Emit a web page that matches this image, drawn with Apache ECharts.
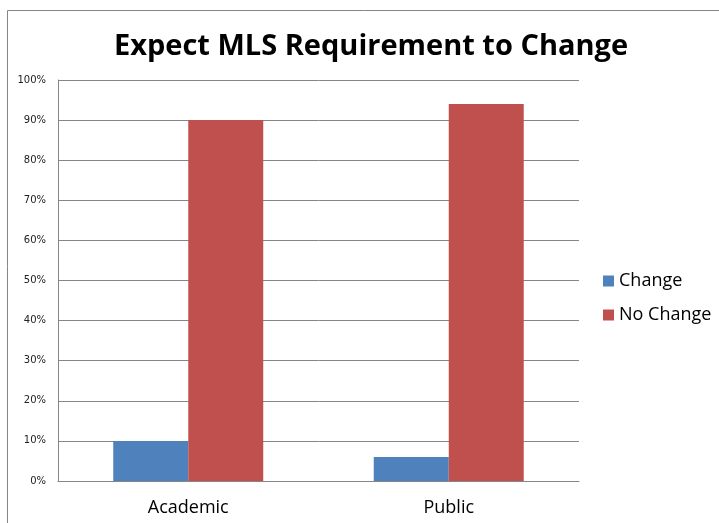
<!DOCTYPE html>
<html>
<head>
<meta charset="utf-8">
<script src="https://cdn.jsdelivr.net/npm/echarts@6/dist/echarts.min.js"></script>
<style>
  html, body { margin: 0; padding: 0; background: #fff; }
  #chart { width: 719px; height: 523px; }
</style>
</head>
<body>
<div id="chart"></div>
<script>
const categories = ["Academic", "Public"];
const changeValues = [10, 6];
const noChangeValues = [90, 94];

const chart = echarts.init(document.getElementById("chart"));

const option = {
  animation: false,
  backgroundColor: "#fff",
  title: {
    text: "Expect MLS Requirement to Change",
    left: 366,
    textAlign: "center",
    top: 27,
    textStyle: {
      fontFamily: "Open Sans",
      fontWeight: "bold",
      fontSize: 29,
      color: "#000"
    }
  },
  // partial outer frame like the original chart box
  graphic: [
    { type: "line", shape: { x1: 7.5, y1: 10.5, x2: 719, y2: 10.5 }, style: { stroke: "#868686", lineWidth: 1 } },
    { type: "line", shape: { x1: 7.5, y1: 10.5, x2: 7.5, y2: 523 }, style: { stroke: "#868686", lineWidth: 1 } }
  ],
  legend: {
    orient: "vertical",
    left: 603,
    top: 272,
    padding: 0,
    itemWidth: 11,
    itemHeight: 11,
    itemGap: 16,
    icon: "rect",
    textStyle: { fontFamily: "Open Sans", fontSize: 18, color: "#000" },
    data: ["Change", "No Change"]
  },
  grid: { left: 58, right: 140, top: 80, bottom: 42 },
  xAxis: {
    type: "category",
    data: categories,
    axisLine: { lineStyle: { color: "#868686" } },
    axisTick: { show: false },
    axisLabel: { fontFamily: "Open Sans", fontSize: 18, color: "#000", margin: 18 }
  },
  yAxis: {
    type: "value",
    min: 0,
    max: 100,
    interval: 10,
    axisLine: { show: true, lineStyle: { color: "#868686" } },
    axisTick: { show: false },
    splitLine: { lineStyle: { color: "#868686" } },
    axisLabel: {
      formatter: "{value}%",
      fontFamily: "DejaVu Sans",
      fontSize: 10,
      color: "#222",
      margin: 12
    }
  },
  series: [
    {
      name: "Change",
      type: "bar",
      data: changeValues,
      barWidth: 75,
      barGap: "0%",
      itemStyle: { color: "#4F81BD" }
    },
    {
      name: "No Change",
      type: "bar",
      data: noChangeValues,
      barWidth: 75,
      itemStyle: { color: "#C0504D" }
    }
  ]
};

chart.setOption(option);
</script>
</body>
</html>
